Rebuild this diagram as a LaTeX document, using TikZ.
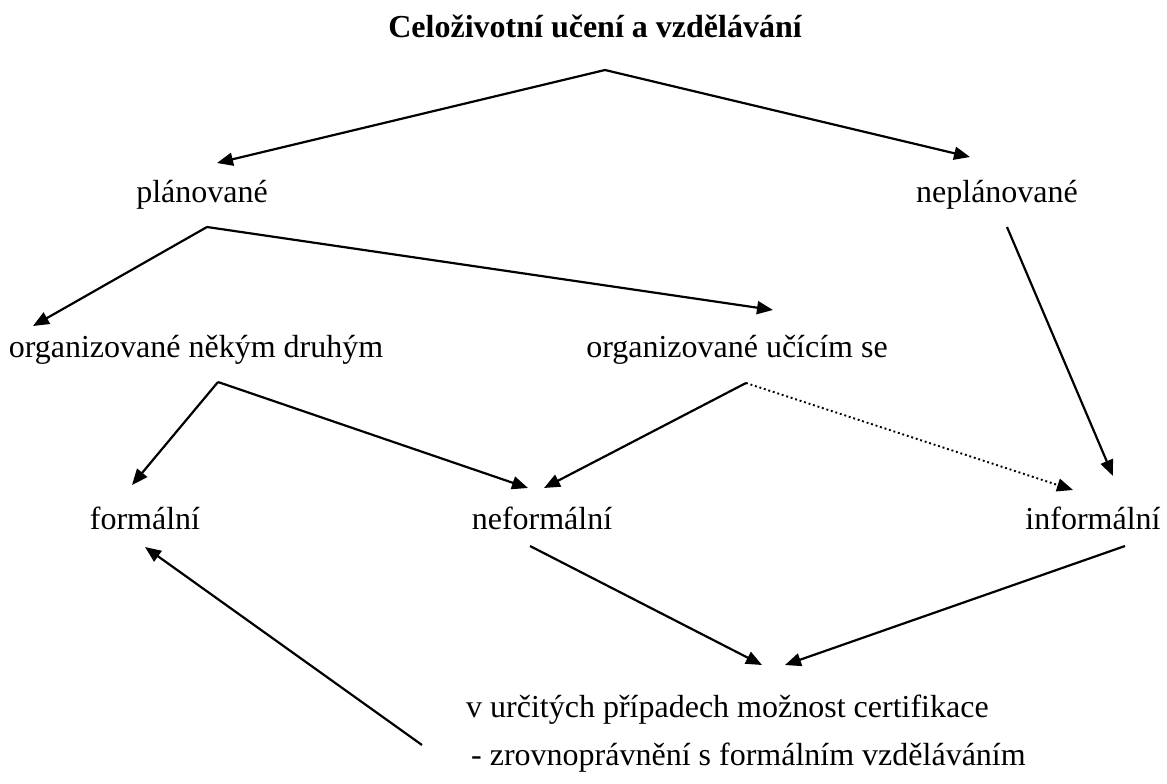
\documentclass[tikz,border=0pt]{standalone}
\usepackage{fontspec}
\setmainfont{Liberation Serif}
\usetikzlibrary{arrows.meta}
\tikzset{
  lbl/.style={inner sep=0pt, anchor=base, font=\fontsize{32}{36}\selectfont},
  conn/.style={line width=2.2pt, -{Triangle[length=16pt,width=13pt]}},
  dotconn/.style={line width=1.9pt, dash pattern=on 1.9pt off 2.8pt, -{Triangle[length=16pt,width=13pt]}}
}
\begin{document}
\begin{tikzpicture}[x=1pt,y=-1pt]
\useasboundingbox (0,0) rectangle (1167,784);
% texts
\node[lbl, font=\fontsize{32}{36}\selectfont\bfseries] (title) at (595,38) {Celoživotní učení a vzdělávání};
\node[lbl] (plan) at (202,202) {plánované};
\node[lbl] (neplan) at (997,202) {neplánované};
\node[lbl] (orgdr) at (196,357) {organizované někým druhým};
\node[lbl] (orgucs) at (737,357) {organizované učícím se};
\node[lbl] (form) at (145,529) {formální};
\node[lbl] (neform) at (542,529) {neformální};
\node[lbl] (inform) at (1093,529) {informální};
\node[lbl, anchor=base west] (cert1) at (466,717) {v určitých případech možnost certifikace};
\node[lbl, anchor=base west] (cert2) at (471,765) {- zrovnoprávnění s formálním vzděláváním};
% connector ends
\coordinate (title-o) at (605,70);
\coordinate (plan-i) at (217,163);
\coordinate (neplan-i) at (970,157);
\coordinate (plan-o) at (207,227);
\coordinate (orgdr-i) at (33,326);
\coordinate (orgucs-i) at (773,310);
\coordinate (neplan-o) at (1007,227);
\coordinate (inform-i) at (1113,476);
\coordinate (orgdr-o) at (218,382);
\coordinate (form-i) at (132,485);
\coordinate (neform-i) at (528,488);
\coordinate (orgucs-o) at (746,383);
\coordinate (neform-i2) at (544,488);
\coordinate (inform-i2) at (1073,490);
\coordinate (neform-o) at (530,546);
\coordinate (cert-i) at (762,665);
\coordinate (inform-o) at (1125,546);
\coordinate (cert-i2) at (785,665);
\coordinate (cert-o) at (422,745);
\coordinate (form-i2) at (145,547);
% connectors
\draw[conn] (title-o) -- (plan-i);
\draw[conn] (title-o) -- (neplan-i);
\draw[conn] (plan-o) -- (orgdr-i);
\draw[conn] (plan-o) -- (orgucs-i);
\draw[conn] (neplan-o) -- (inform-i);
\draw[conn] (orgdr-o) -- (form-i);
\draw[conn] (orgdr-o) -- (neform-i);
\draw[conn] (orgucs-o) -- (neform-i2);
\draw[dotconn] (orgucs-o) -- (inform-i2);
\draw[conn] (neform-o) -- (cert-i);
\draw[conn] (inform-o) -- (cert-i2);
\draw[conn] (cert-o) -- (form-i2);
\end{tikzpicture}
\end{document}
